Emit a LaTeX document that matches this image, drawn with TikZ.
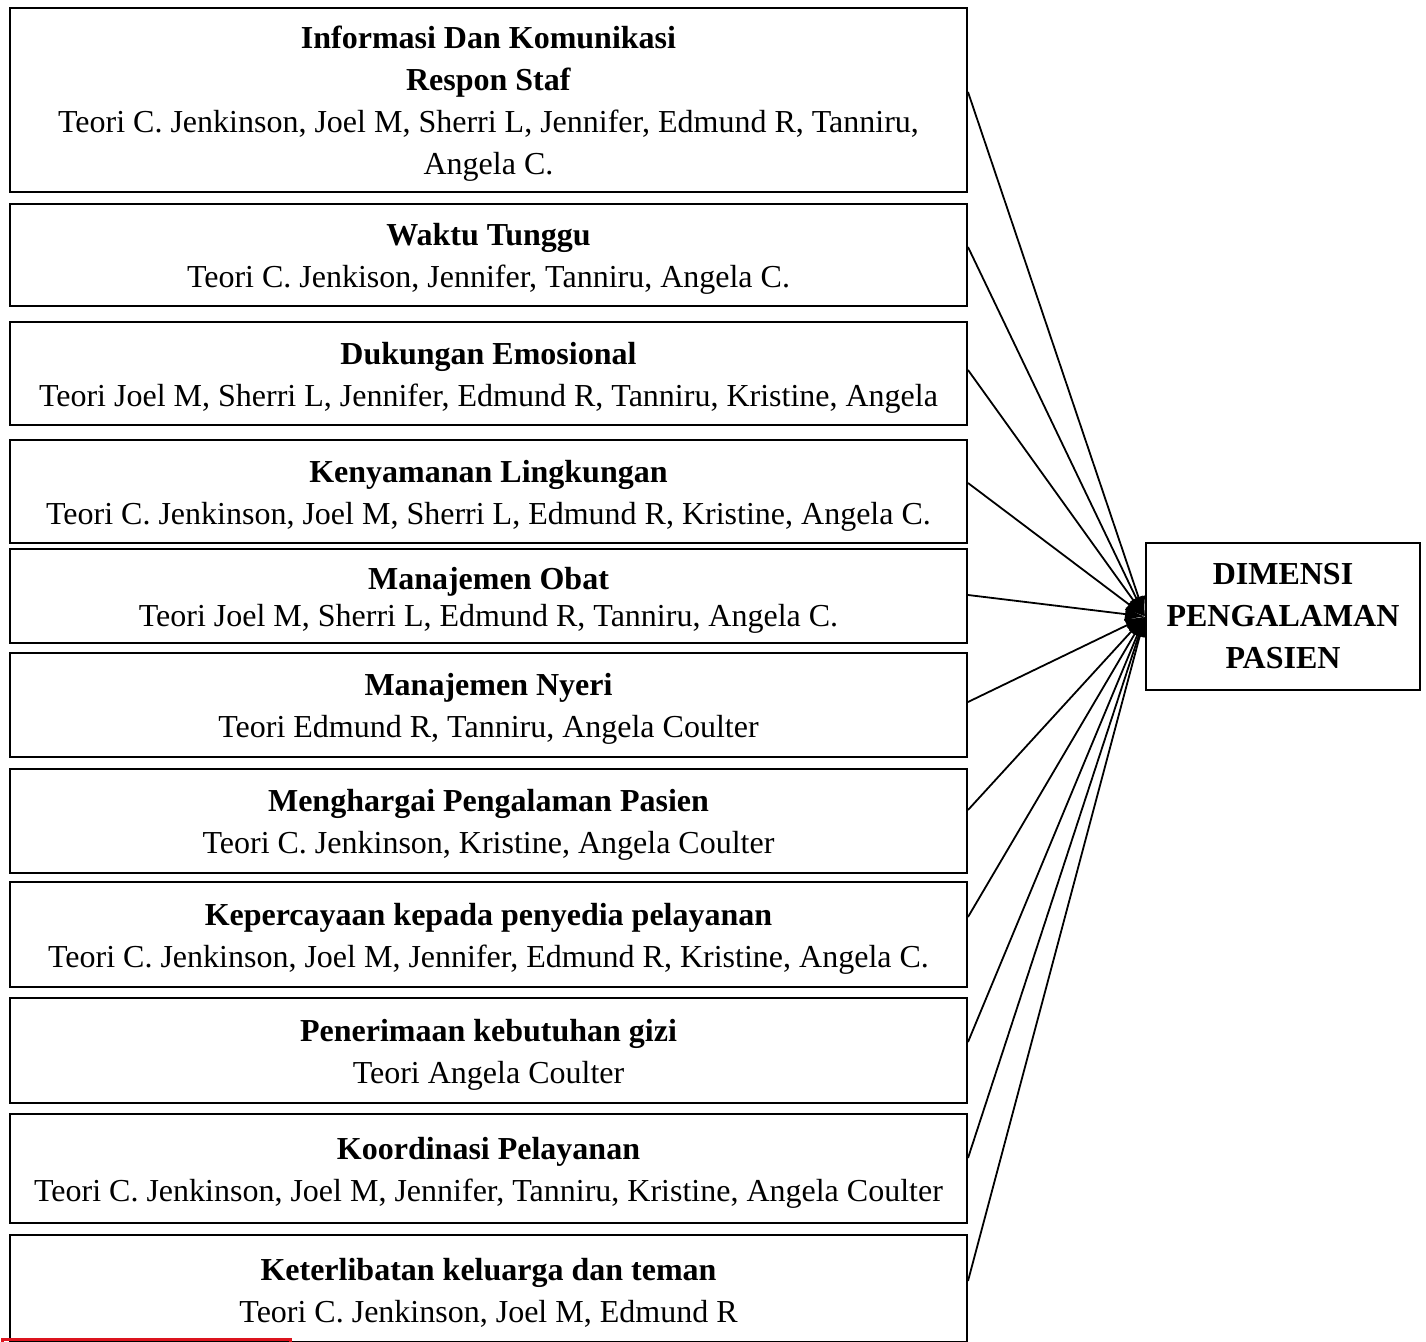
\documentclass[tikz,border=0pt]{standalone}
\usepackage{fontspec}
\setmainfont{Liberation Serif}
\usetikzlibrary{arrows.meta}
\definecolor{tandamerah}{RGB}{220,20,30}
\newcommand{\atas}{\rule{0pt}{15pt}}
\tikzset{
  teori/.style={draw,line width=1pt,minimum width=478.5pt,align=center,inner sep=2pt,font=\fontsize{16}{21}\selectfont},
  dimensi/.style={draw,line width=1pt,minimum width=137pt,minimum height=73.5pt,align=center,font=\fontsize{16}{21}\selectfont\bfseries},
  garis/.style={line width=0.9pt,-{Latex[length=10pt,width=7pt]}}
}
\begin{document}
\begin{tikzpicture}[x=0.5pt,y=-0.5pt]
    \useasboundingbox (0,0) rectangle (1426,1342);
    \node[teori,minimum height=92pt] (info) at (488.5,100) {\atas\textbf{Informasi Dan Komunikasi}\\\textbf{Respon Staf}\\Teori C. Jenkinson, Joel M, Sherri L, Jennifer, Edmund R, Tanniru,\\Angela C.};
    \node[teori,minimum height=51pt] (waktu) at (488.5,255) {\atas\textbf{Waktu Tunggu}\\Teori C. Jenkison, Jennifer, Tanniru, Angela C.};
    \node[teori,minimum height=51.5pt] (emosi) at (488.5,373.5) {\atas\textbf{Dukungan Emosional}\\Teori Joel M, Sherri L, Jennifer, Edmund R, Tanniru, Kristine, Angela};
    \node[teori,minimum height=51.5pt] (nyaman) at (488.5,491.5) {\atas\textbf{Kenyamanan Lingkungan}\\Teori C. Jenkinson, Joel M, Sherri L, Edmund R, Kristine, Angela C.};
    \node[teori,minimum height=47pt] (obat) at (488.5,596) {\atas\textbf{Manajemen Obat}\\[-2.5pt]Teori Joel M, Sherri L, Edmund R, Tanniru, Angela C.};
    \node[teori,minimum height=52pt] (nyeri) at (488.5,705) {\atas\textbf{Manajemen Nyeri}\\Teori Edmund R, Tanniru, Angela Coulter};
    \node[teori,minimum height=52pt] (hargai) at (488.5,821) {\atas\textbf{Menghargai Pengalaman Pasien}\\Teori C. Jenkinson, Kristine, Angela Coulter};
    \node[teori,minimum height=52.5pt] (percaya) at (488.5,934.5) {\atas\textbf{Kepercayaan kepada penyedia pelayanan}\\Teori C. Jenkinson, Joel M, Jennifer, Edmund R, Kristine, Angela C.};
    \node[teori,minimum height=52.5pt] (gizi) at (488.5,1050.5) {\atas\textbf{Penerimaan kebutuhan gizi}\\Teori Angela Coulter};
    \node[teori,minimum height=54.5pt] (koord) at (488.5,1168.5) {\atas\textbf{Koordinasi Pelayanan}\\Teori C. Jenkinson, Joel M, Jennifer, Tanniru, Kristine, Angela Coulter};
    \node[teori,minimum height=53.5pt] (keluarga) at (488.5,1288.5) {\atas\textbf{Keterlibatan keluarga dan teman}\\Teori C. Jenkinson, Joel M, Edmund R};
    \node[dimensi] (dim) at (1283,616.5) {DIMENSI\\PENGALAMAN\\PASIEN};
    % garis ke dimensi
    \foreach \src/\dy in {info/4,waktu/4,emosi/1.75,nyaman/4.25,obat/0.5,nyeri/1.5,hargai/5.5,percaya/8.75,gizi/4.25,koord/5.25,keluarga/3.75}
        \draw[garis] ([yshift=\dy pt]\src.east) -- (dim.west);
    \draw[tandamerah,line width=1.5pt] (2,1360) -- (2,1339) -- (290,1339) -- (290,1360);
\end{tikzpicture}
\end{document}
